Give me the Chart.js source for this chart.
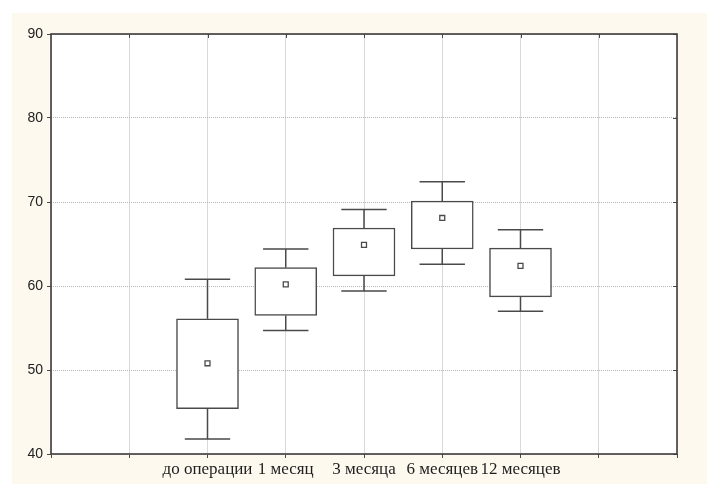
<!DOCTYPE html>
<html>
<head>
<meta charset="utf-8">
<script src="https://cdn.jsdelivr.net/npm/chart.js@4"></script>
<style>
  html, body { margin: 0; padding: 0; background: #ffffff; }
  canvas { display: block; }
</style>
</head>
<body>
<canvas id="chart" width="707" height="489"></canvas>
<script>
// Follow-up groups and their slot on the x axis
const categories = ['до операции', '1 месяц', '3 месяца', '6 месяцев', '12 месяцев'];
const positions = [2, 3, 4, 5, 6];

// Box-and-whisker statistics per group
const whiskerLow  = [41.8, 54.7, 59.4, 62.6, 57.0];
const boxLow      = [45.4, 56.5, 61.2, 64.4, 58.7];
const meanValues  = [50.8, 60.2, 64.9, 68.1, 62.4];
const boxHigh     = [56.1, 62.2, 66.9, 70.1, 64.5];
const whiskerHigh = [60.8, 64.4, 69.1, 72.4, 66.7];

// Value axis ticks
const yTicks = [40, 50, 60, 70, 80, 90];

const LINE = '#4a4a4a';
const CAP_HALF = 0.29;

// Whisker stems and caps as broken line segments
const whiskerPoints = [];
positions.forEach((p, i) => {
  whiskerPoints.push({ x: p, y: boxHigh[i] }, { x: p, y: whiskerHigh[i] }, { x: p, y: null });
  whiskerPoints.push({ x: p - CAP_HALF, y: whiskerHigh[i] }, { x: p + CAP_HALF, y: whiskerHigh[i] }, { x: p, y: null });
  whiskerPoints.push({ x: p, y: boxLow[i] }, { x: p, y: whiskerLow[i] }, { x: p, y: null });
  whiskerPoints.push({ x: p - CAP_HALF, y: whiskerLow[i] }, { x: p + CAP_HALF, y: whiskerLow[i] }, { x: p, y: null });
});

// Page backdrop, plot frame and inner tick marks
const framePlugin = {
  id: 'frame',
  beforeDraw(chart) {
    const { ctx, chartArea: a } = chart;
    ctx.save();
    ctx.fillStyle = '#ffffff';
    ctx.fillRect(0, 0, chart.width, chart.height);
    ctx.fillStyle = '#fdf9ef';
    ctx.fillRect(12, 13, chart.width - 12, 471);
    ctx.fillStyle = '#ffffff';
    ctx.fillRect(a.left, a.top, a.right - a.left, a.bottom - a.top);
    ctx.restore();
  },
  afterDatasetsDraw(chart) {
    const { ctx, chartArea: a, scales } = chart;
    ctx.save();
    ctx.strokeStyle = LINE;
    ctx.lineWidth = 1;
    ctx.beginPath();
    yTicks.forEach(v => {
      const y = Math.round(scales.y.getPixelForValue(v)) + 0.5;
      ctx.moveTo(a.right - 4, y);
      ctx.lineTo(a.right, y);
    });
    for (let v = 1; v < 8; v++) {
      const x = Math.round(scales.x.getPixelForValue(v)) + 0.5;
      ctx.moveTo(x, a.top);
      ctx.lineTo(x, a.top + 4);
    }
    ctx.stroke();
    ctx.lineWidth = 1.6;
    ctx.strokeStyle = '#3c3c3c';
    ctx.strokeRect(a.left, a.top, a.right - a.left, a.bottom - a.top);
    ctx.restore();
  }
};

new Chart(document.getElementById('chart'), {
  data: {
    datasets: [
      {
        type: 'scatter',
        order: 0,
        data: positions.map((p, i) => ({ x: p, y: meanValues[i] })),
        pointStyle: 'rect',
        pointRadius: 3.5,
        pointBackgroundColor: '#ffffff',
        pointBorderColor: LINE,
        pointBorderWidth: 1.3
      },
      {
        type: 'line',
        order: 1,
        data: whiskerPoints,
        borderColor: LINE,
        borderWidth: 1.5,
        pointRadius: 0,
        spanGaps: false,
        fill: false
      },
      {
        type: 'bar',
        order: 2,
        data: positions.map((p, i) => ({ x: p, y: [boxLow[i], boxHigh[i]] })),
        backgroundColor: '#ffffff',
        borderColor: LINE,
        borderWidth: 1.5,
        borderSkipped: false,
        barThickness: 62
      }
    ]
  },
  options: {
    responsive: false,
    animation: false,
    events: [],
    layout: { padding: { left: 0, right: 30, top: 34, bottom: 0 } },
    plugins: { legend: { display: false }, tooltip: { enabled: false } },
    scales: {
      x: {
        type: 'linear',
        offset: false,
        min: 0,
        max: 8,
        afterFit(scale) { scale.height = 35; },
        ticks: {
          stepSize: 1,
          autoSkip: false,
          maxRotation: 0,
          padding: 1,
          color: '#1e1e1e',
          font: { family: 'Liberation Serif', size: 17 },
          callback(v) {
            const i = positions.indexOf(v);
            return i >= 0 ? categories[i] : '';
          }
        },
        grid: { offset: false, color: '#d9d9d9', lineWidth: 1, tickLength: 4, tickColor: LINE },
        border: { display: false }
      },
      y: {
        min: 40,
        max: 90,
        afterFit(scale) { scale.width = 51; },
        afterBuildTicks(scale) { scale.ticks = yTicks.map(v => ({ value: v })); },
        ticks: {
          padding: 4,
          color: '#222222',
          font: { family: 'Liberation Sans', size: 14 }
        },
        grid: { color: '#b8b8b8', lineWidth: 1, tickLength: 4, tickColor: LINE, tickBorderDash: [] },
        border: { display: false, dash: [1, 1] }
      }
    }
  },
  plugins: [framePlugin]
});
</script>
</body>
</html>
